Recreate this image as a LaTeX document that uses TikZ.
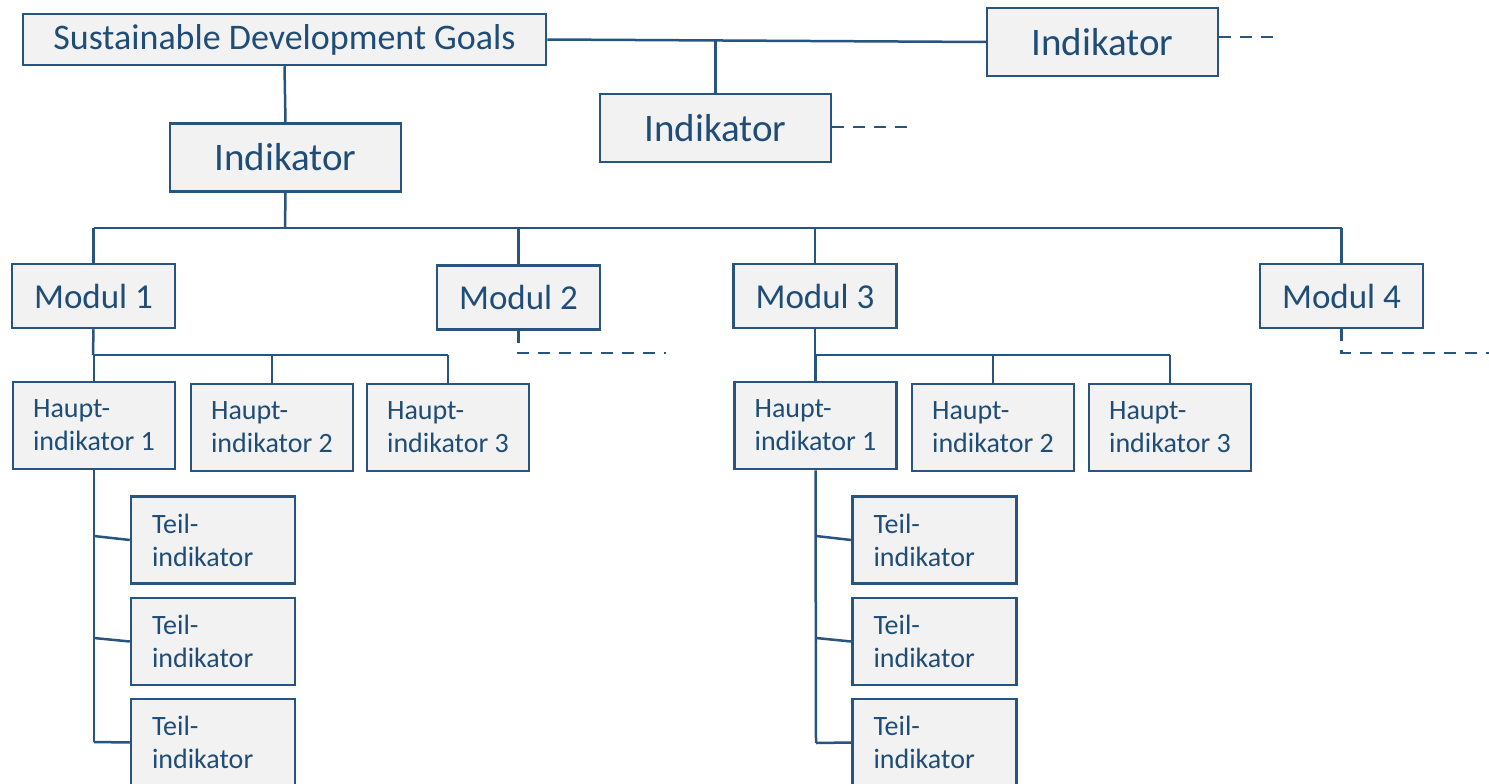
\documentclass[tikz,border=0pt]{standalone}
\usepackage{fontspec}
\setmainfont{Carlito}
\definecolor{bd}{RGB}{40,84,128}
\definecolor{txt}{RGB}{31,77,120}
\definecolor{boxfill}{RGB}{242,242,242}
\tikzset{
  x=1pt, y=-1pt,
  box/.style={draw=bd, line width=2.5pt, fill=boxfill, text=txt, inner sep=0pt},
  sdgbox/.style={box, minimum width=523pt, minimum height=51pt, font=\fontsize{36}{43}\selectfont},
  indbox/.style={box, minimum width=231pt, minimum height=68pt, font=\fontsize{39}{47}\selectfont},
  modbox/.style={box, minimum width=163pt, minimum height=64pt, font=\fontsize{35}{42}\selectfont},
  hibox/.style={box, minimum width=162pt, minimum height=87pt, align=left, font=\fontsize{28}{33}\selectfont},
  teilbox/.style={box, minimum height=87pt, text width=122pt, inner xsep=21pt, align=left, font=\fontsize{28}{33}\selectfont},
  conn/.style={draw=bd, line width=2.5pt},
  dconn/.style={draw=bd, line width=2.5pt, dash pattern=on 12pt off 9pt},
}
\begin{document}
\begin{tikzpicture}
\useasboundingbox (0,0) rectangle (1489,784);
\clip (0,0) rectangle (1489,784);
\fill[white] (0,0) rectangle (1489,784);

% top level
\node[sdgbox] (sdg) at (284.5,39.5) {Sustainable Development Goals};
\node[indbox] (ind1) at (285.5,157.5) {Indikator};
\node[indbox] (ind2) at (715.5,128) {Indikator};
\node[indbox] (ind3) at (1102.5,42) {Indikator};

% modules
\node[modbox] (mod1) at (93.5,296) {Modul 1};
\node[modbox] (mod2) at (518.5,297.5) {Modul 2};
\node[modbox] (mod3) at (815,296) {Modul 3};
\node[modbox] (mod4) at (1341.5,296) {Modul 4};

% Hauptindikatoren module 1
\node[hibox] (h11) at (94,425.5) {Haupt-\\indikator~1};
\node[hibox] (h12) at (272,427.5) {Haupt-\\indikator~2};
\node[hibox] (h13) at (448,427.5) {Haupt-\\indikator~3};
% Hauptindikatoren module 3
\node[hibox] (h31) at (815.5,425.5) {Haupt-\\indikator~1};
\node[hibox] (h32) at (993,427.5) {Haupt-\\indikator~2};
\node[hibox] (h33) at (1170,427.5) {Haupt-\\indikator~3};

% Teilindikatoren
\node[teilbox] (t11) at (213,540) {Teil-\\indikator};
\node[teilbox] (t12) at (213,641.5) {Teil-\\indikator};
\node[teilbox] (t13) at (213,742.5) {Teil-\\indikator};
\node[teilbox] (t31) at (934.5,540) {Teil-\\indikator};
\node[teilbox] (t32) at (934.5,641.5) {Teil-\\indikator};
\node[teilbox] (t33) at (934.5,742.5) {Teil-\\indikator};

% helper coordinates
\coordinate (bus) at (285,228);
\coordinate (sb1) at (93,355);
\coordinate (sb3) at (815,355);
\coordinate (m2end) at (666,353);
\coordinate (m4end) at (1489,353);
\coordinate (i2end) at (913,127);
\coordinate (i3end) at (1280,37);
\coordinate (ta1) at (94,536);
\coordinate (tb1) at (94,638);
\coordinate (tc1) at (94,742);
\coordinate (ta3) at (816,536);
\coordinate (tb3) at (816,638);
\coordinate (tc3) at (816,743);

% connectors top
\draw[conn] (sdg.south) -- (ind1.north);
\draw[conn] (sdg.east) -- (ind3.west);
\draw[conn] (ind2.north) -- (ind2.north |- sdg.east);
\draw[dconn] (ind2.east |- i2end) -- (i2end);
\draw[dconn] (ind3.east |- i3end) -- (i3end);

% bus to modules
\draw[conn] (ind1.south) -- (bus);
\draw[conn] (mod1.north |- bus) -- (mod4.north |- bus);
\draw[conn] (mod1.north) -- (mod1.north |- bus);
\draw[conn] (mod2.north) -- (mod2.north |- bus);
\draw[conn] (mod3.north) -- (mod3.north |- bus);
\draw[conn] (mod4.north) -- (mod4.north |- bus);
\draw[dconn] (mod2.south) |- (m2end);
\draw[dconn] (mod4.south) |- (m4end);

% module 1 subtree
\draw[conn] (mod1.south) -- (sb1);
\draw[conn] (h11.north |- sb1) -- (h13.north |- sb1);
\draw[conn] (h11.north) -- (h11.north |- sb1);
\draw[conn] (h12.north) -- (h12.north |- sb1);
\draw[conn] (h13.north) -- (h13.north |- sb1);
\draw[conn] (h11.south) -- (tc1);
\draw[conn] (ta1) -- (t11.west);
\draw[conn] (tb1) -- (t12.west);
\draw[conn] (tc1) -- (t13.west);

% module 3 subtree
\draw[conn] (mod3.south) -- (sb3);
\draw[conn] (h31.north |- sb3) -- (h33.north |- sb3);
\draw[conn] (h31.north) -- (h31.north |- sb3);
\draw[conn] (h32.north) -- (h32.north |- sb3);
\draw[conn] (h33.north) -- (h33.north |- sb3);
\draw[conn] (h31.south) -- (tc3);
\draw[conn] (ta3) -- (t31.west);
\draw[conn] (tb3) -- (t32.west);
\draw[conn] (tc3) -- (t33.west);
\end{tikzpicture}
\end{document}
